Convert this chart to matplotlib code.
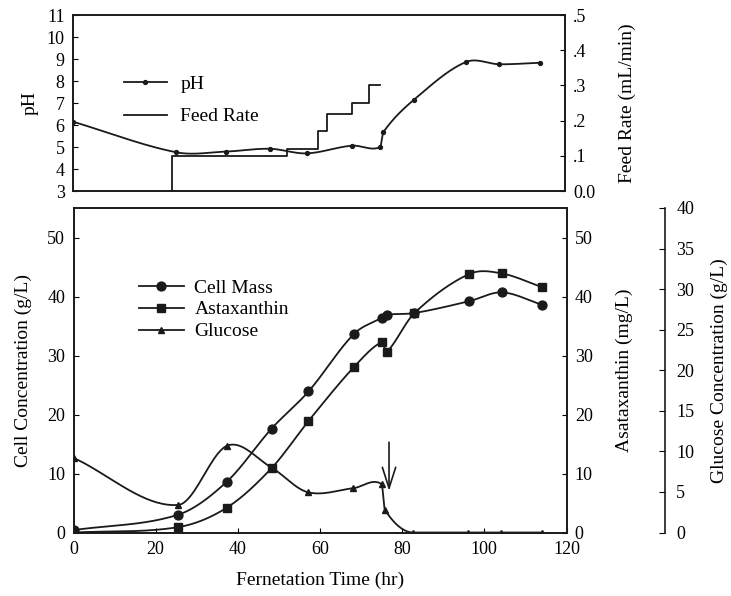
import numpy as np
import matplotlib
matplotlib.use('Agg')
import matplotlib.pyplot as plt

# ---------------- data ----------------
ph_time = [0, 25.2, 37.2, 48, 57, 68, 74.9, 75.7, 83.1, 95.8, 104, 114]
ph_vals = [6.15, 4.76, 4.79, 4.92, 4.71, 5.06, 4.99, 5.68, 7.14, 8.86, 8.76, 8.83]

feed_time = [24.1, 24.1, 52.1, 59.8, 61.9, 68.1, 72.2, 74.9]
feed_vals = [0.0, 0.10, 0.12, 0.17, 0.22, 0.25, 0.30, 0.30]

time = [0, 25.4, 37.3, 48.2, 57.2, 68.2, 75.1, 76.2, 83, 96.3, 104.3, 114]
cell_mass = [0.4, 3.0, 8.6, 17.6, 23.9, 33.6, 36.4, 36.9, 37.2, 39.2, 40.7, 38.6]
astaxanthin = [0.0, 0.9, 4.2, 10.9, 18.9, 28.0, 32.3, 30.6, 37.2, 43.8, 43.9, 41.6]

glu_time = [0, 25.5, 37.4, 48.2, 57, 68.1, 75.0, 75.8, 82.7, 96, 104, 114]
glucose = [9.2, 3.4, 10.7, 8.0, 4.97, 5.46, 5.96, 2.78, 0.0, 0.0, 0.0, 0.0]

arrow_x = 76.8
arrow_from, arrow_to = 15.3, 7.05

ph_ticks = list(range(3, 12))
feed_ticks = [0.0, 0.1, 0.2, 0.3, 0.4, 0.5]
feed_ticklabels = ['0.0', '.1', '.2', '.3', '.4', '.5']
x_ticks = [0, 20, 40, 60, 80, 100, 120]
cell_ticks = [0, 10, 20, 30, 40, 50]
glu_ticks = [0, 5, 10, 15, 20, 25, 30, 35, 40]


def smooth(x, y, n=40):
    """Cubic Hermite curve through the data points (drawing only)."""
    x = np.asarray(x, float)
    y = np.asarray(y, float)
    sec = np.diff(y) / np.diff(x)
    m = np.empty_like(y)
    m[0], m[-1] = sec[0], sec[-1]
    m[1:-1] = (y[2:] - y[:-2]) / (x[2:] - x[:-2])
    for i in range(1, len(x) - 1):
        if sec[i - 1] == 0 or sec[i] == 0:
            m[i] = 0.0
    if sec[-1] == 0:
        m[-1] = 0.0
    xs, ys = [], []
    for i in range(len(x) - 1):
        h = x[i + 1] - x[i]
        t = np.linspace(0, 1, n)
        h00 = 2 * t**3 - 3 * t**2 + 1
        h10 = t**3 - 2 * t**2 + t
        h01 = -2 * t**3 + 3 * t**2
        h11 = t**3 - t**2
        ys.append(h00 * y[i] + h10 * h * m[i] + h01 * y[i + 1] + h11 * h * m[i + 1])
        xs.append(x[i] + t * h)
    return np.concatenate(xs), np.concatenate(ys)


plt.rcParams['font.family'] = ['Liberation Serif', 'DejaVu Serif']
plt.rcParams['font.size'] = 13
FS_TICK = 13
FS_LAB = 14
FS_LEG = 14
LC = '#1a1a1a'
LW = 1.3
SW = 1.2

fig = plt.figure(figsize=(7.31, 5.96), dpi=100)
W, H = 731.0, 596.0

# ---------------- top panel ----------------
ax1 = fig.add_axes([73 / W, 1 - 191 / H, 492 / W, 176 / H])
ax1r = ax1.twinx()

sx, sy = smooth(ph_time, ph_vals)
ax1.plot(sx, sy, color=LC, lw=LW)
ax1.plot(ph_time, ph_vals, ls='none', marker='o', ms=2.8, color=LC)
ax1r.step(feed_time, feed_vals, where='post', color=LC, lw=LW)

ax1.set_xlim(0, 120)
ax1.set_ylim(3, 11)
ax1r.set_ylim(0, 0.5)
ax1.set_yticks(ph_ticks)
ax1r.set_yticks(feed_ticks)
ax1r.set_yticklabels(feed_ticklabels)
ax1.set_xticks([])
ax1.tick_params(axis='y', direction='in', length=3.5, labelsize=FS_TICK, pad=6)
ax1r.tick_params(axis='y', direction='in', length=3.5, labelsize=FS_TICK, pad=6)
ax1.set_ylabel('pH', fontsize=FS_LAB)
ax1.yaxis.set_label_coords(-0.069, 0.5)
ax1r.set_ylabel('Feed Rate (mL/min)', fontsize=FS_LAB)
ax1r.yaxis.set_label_coords(1.11, 0.5)
for a in (ax1, ax1r):
    for s in a.spines.values():
        s.set_linewidth(SW)
        s.set_color(LC)

h_ph, = ax1.plot([], [], color=LC, lw=LW, marker='o', ms=2.8)
h_fr, = ax1.plot([], [], color=LC, lw=LW)
ax1.legend([h_ph, h_fr], ['pH', 'Feed Rate'], loc='upper left',
           bbox_to_anchor=(124 / W, 1 - 75 / H), bbox_transform=fig.transFigure,
           frameon=False, borderpad=0, handlelength=2.2, handletextpad=0.7,
           labelspacing=0.78, fontsize=FS_LEG, borderaxespad=0)

# ---------------- bottom panel ----------------
ax2 = fig.add_axes([73.5 / W, 1 - 532.5 / H, 493 / W, 324.5 / H])
ax2r = ax2.twinx()
ax3 = ax2.twinx()

cx, cy = smooth(time, cell_mass)
ax2.plot(cx, cy, color=LC, lw=LW)
ax2.plot(time, cell_mass, ls='none', marker='o', ms=6.4, color=LC)

ax_, ay_ = smooth(time, astaxanthin)
ax2r.plot(ax_, ay_, color=LC, lw=LW)
ax2r.plot(time, astaxanthin, ls='none', marker='s', ms=6.0, color=LC)

gx, gy = smooth(glu_time, glucose)
ax3.plot(gx, gy, color=LC, lw=LW)
ax3.plot(glu_time, glucose, ls='none', marker='^', ms=4.8, color=LC)

ax2.annotate('', xy=(arrow_x, arrow_to), xytext=(arrow_x, arrow_from),
             arrowprops=dict(arrowstyle='->, head_length=0.75, head_width=0.24',
                             color=LC, lw=1.2, mutation_scale=20,
                             shrinkA=0, shrinkB=0))

ax2.set_xlim(0, 120)
ax2.set_ylim(0, 55)
ax2r.set_ylim(0, 55)
ax3.set_ylim(0, 40)
ax2.set_xticks(x_ticks)
ax2.set_yticks(cell_ticks)
ax2r.set_yticks(cell_ticks)
ax3.set_yticks(glu_ticks)
ax2.tick_params(axis='both', direction='in', length=3.5, labelsize=FS_TICK, pad=6)
ax2r.tick_params(axis='y', direction='in', length=3.5, labelsize=FS_TICK, pad=6)
ax3.tick_params(axis='y', direction='in', length=4, labelsize=FS_TICK, pad=8)

ax3.spines['right'].set_position(('axes', 1.2))
for k in ('top', 'bottom', 'left'):
    ax3.spines[k].set_visible(False)
ax3.patch.set_visible(False)
for a in (ax2, ax2r, ax3):
    for s in a.spines.values():
        s.set_linewidth(SW)
        s.set_color(LC)

ax2.set_xlabel('Fernetation Time (hr)', fontsize=FS_LAB)
ax2.xaxis.set_label_coords(0.5, -0.12)
ax2.set_ylabel('Cell Concentration (g/L)', fontsize=FS_LAB)
ax2.yaxis.set_label_coords(-0.084, 0.5)
ax2r.set_ylabel('Asataxanthin (mg/L)', fontsize=FS_LAB)
ax2r.yaxis.set_label_coords(1.1, 0.5)
ax3.set_ylabel('Glucose Concentration (g/L)', fontsize=FS_LAB)
ax3.yaxis.set_label_coords(1.292, 0.5)

hc, = ax2.plot([], [], color=LC, lw=LW, marker='o', ms=6.4)
hs, = ax2.plot([], [], color=LC, lw=LW, marker='s', ms=6.0)
ht, = ax2.plot([], [], color=LC, lw=LW, marker='^', ms=4.8)
ax2.legend([hc, hs, ht], ['Cell Mass', 'Astaxanthin', 'Glucose'], loc='upper left',
           bbox_to_anchor=(139 / W, 1 - 279 / H), bbox_transform=fig.transFigure,
           frameon=False, borderpad=0, handlelength=2.3, handletextpad=0.55,
           labelspacing=0.22, fontsize=FS_LEG, borderaxespad=0)

fig.savefig('out.png', dpi=100)
